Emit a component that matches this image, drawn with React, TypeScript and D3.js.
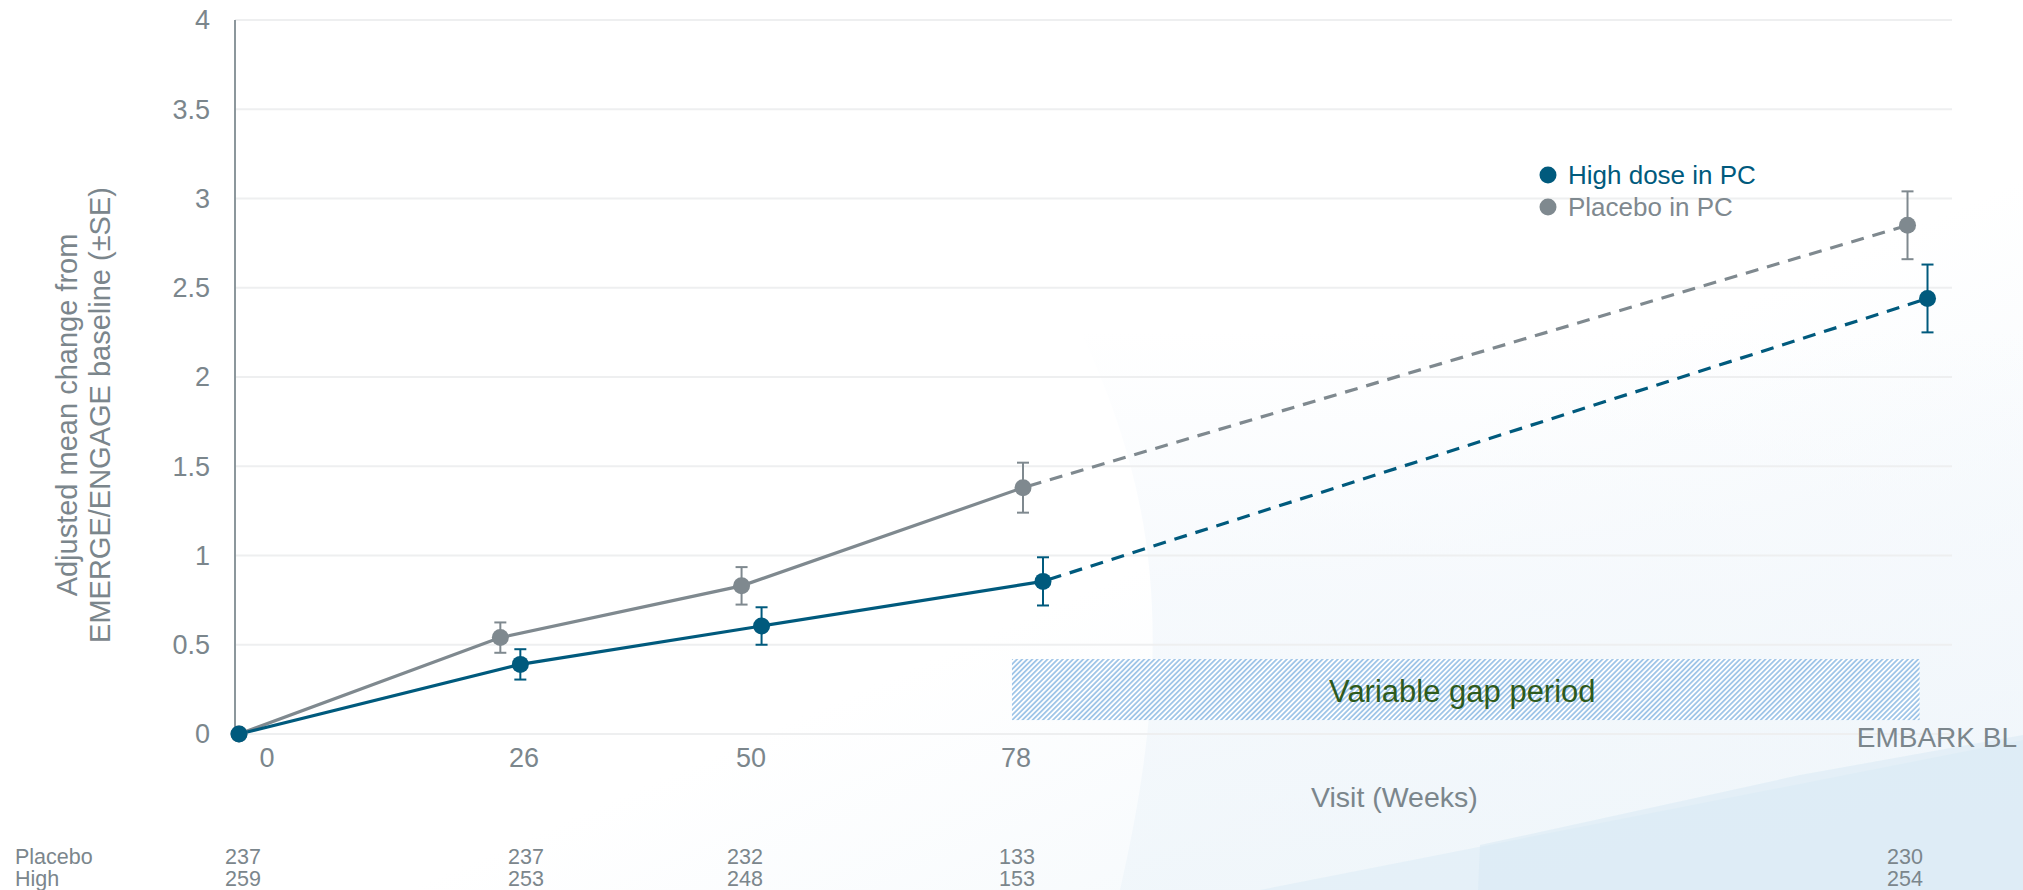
import React from 'react';
import * as d3 from 'd3';

// Visits on the x axis; EMBARK BL sits after the variable gap period
const visitLabels = ['0', '26', '50', '78', 'EMBARK BL'];
const visitAxisPos = [0, 26, 50, 78, 166];

// Adjusted mean change from EMERGE/ENGAGE baseline and standard errors
const placeboMean = [0, 0.54, 0.83, 1.38, 2.85];
const placeboSE = [0, 0.085, 0.105, 0.14, 0.19];
const highMean = [0, 0.39, 0.605, 0.855, 2.44];
const highSE = [0, 0.085, 0.105, 0.135, 0.19];

// Patients at each visit
const placeboN = [237, 237, 232, 133, 230];
const highN = [259, 253, 248, 153, 254];

const yTicks = [0, 0.5, 1, 1.5, 2, 2.5, 3, 3.5, 4];

const W = 2023;
const H = 890;
const FONT = 'Arial, "Liberation Sans", Helvetica, sans-serif';
const GREY_TEXT = '#7b868c';
const HIGH = '#005a7d';
const PLACEBO = '#7f898f';

const series = [
  { key: 'placebo', name: 'Placebo in PC', color: PLACEBO, mean: placeboMean, se: placeboSE, dodge: 0 },
  { key: 'high', name: 'High dose in PC', color: HIGH, mean: highMean, se: highSE, dodge: 20 },
];

type Series = (typeof series)[number];

export default function App() {
  const x = d3.scaleLinear().domain([0, 78]).range([239, 1023]);
  const y = d3.scaleLinear().domain([0, 4]).range([734, 20]);
  const axisX = 235;
  const gridEnd = 1952;

  // text columns for tick labels and the patient-count table
  const tickX = d3.scaleOrdinal<string, number>().domain(visitLabels.slice(0, 4)).range([267, 524, 751, 1016]);
  const tableX = d3.scaleOrdinal<string, number>().domain(visitLabels).range([243, 526, 745, 1017, 1905]);

  // baseline points share one position; later visits are dodged per series
  const px = (s: Series, i: number) => x(visitAxisPos[i]) + (i > 0 ? s.dodge : 0);

  const pathFor = (s: Series, idx: number[]) =>
    d3
      .line<number>()
      .x((i) => px(s, i))
      .y((i) => y(s.mean[i]))(idx) || '';

  const gap = { from: 76.9, to: 167.2, top: 0.42, bottom: 0.078 };

  return (
    <svg
      width={W}
      height={H}
      viewBox={`0 0 ${W} ${H}`}
      style={{ position: 'absolute', left: 0, top: 0, fontFamily: FONT }}
    >
      <defs>
        <linearGradient id="bgGrad" x1="0" y1="0" x2="1" y2="1">
          <stop offset="0" stopColor="#ffffff" />
          <stop offset="0.6" stopColor="#ffffff" />
          <stop offset="1" stopColor="#eef5fa" />
        </linearGradient>
        <linearGradient id="sweep" x1="0" y1="0" x2="0" y2="1">
          <stop offset="0" stopColor="#f4f8fc" stopOpacity="0" />
          <stop offset="0.45" stopColor="#f4f8fc" stopOpacity="1" />
          <stop offset="1" stopColor="#eef5fa" stopOpacity="1" />
        </linearGradient>
        <pattern id="hatch" width="3.6" height="3.6" patternUnits="userSpaceOnUse" patternTransform="rotate(45)">
          <rect width="3.6" height="3.6" fill="#ffffff" />
          <line x1="0.9" y1="0" x2="0.9" y2="3.6" stroke="#6aa5dc" strokeWidth="1.15" />
        </pattern>
      </defs>

      {/* soft slide background */}
      <rect x={0} y={0} width={W} height={H} fill="url(#bgGrad)" />
      <path
        d="M1080,330 C1160,500 1175,650 1120,890 L2023,890 L2023,330 Z"
        fill="url(#sweep)"
        opacity={0.75}
      />
      <path d="M1260,890 L2023,740 L2023,890 Z" fill="#e3eff7" opacity={0.9} />
      <path d="M1478,890 L1480,845 L1800,775 L2023,735 L2023,890 Z" fill="#d8e9f4" opacity={0.55} />

      {/* gridlines */}
      {yTicks.map((t) => (
        <line key={t} x1={axisX} x2={gridEnd} y1={y(t)} y2={y(t)} stroke="#eeeff0" strokeWidth={2} />
      ))}
      <line x1={axisX} x2={axisX} y1={y(4)} y2={y(0)} stroke="#8c979c" strokeWidth={2} />

      {/* y tick labels */}
      {yTicks.map((t) => (
        <text key={t} x={210} y={y(t)} dy="0.35em" textAnchor="end" fontSize={27} fill={GREY_TEXT}>
          {String(t)}
        </text>
      ))}

      {/* y axis title */}
      <g fill={GREY_TEXT} fontSize={29}>
        <text transform="translate(77, 415) rotate(-90)" textAnchor="middle">
          Adjusted mean change from
        </text>
        <text transform="translate(110, 415) rotate(-90)" textAnchor="middle">
          EMERGE/ENGAGE baseline (±SE)
        </text>
      </g>

      {/* variable gap period band */}
      <rect
        x={x(gap.from)}
        y={y(gap.top)}
        width={x(gap.to) - x(gap.from)}
        height={y(gap.bottom) - y(gap.top)}
        fill="url(#hatch)"
      />
      <text x={1329} y={702} fontSize={31} fill="#2e5a1c">
        Variable gap period
      </text>

      {/* x tick labels */}
      {visitLabels.slice(0, 4).map((l) => (
        <text key={l} x={tickX(l)} y={767} textAnchor="middle" fontSize={27} fill={GREY_TEXT}>
          {l}
        </text>
      ))}
      <text x={2017} y={747} textAnchor="end" fontSize={28} fill={GREY_TEXT}>
        {visitLabels[4]}
      </text>
      <text x={1311} y={807} fontSize={28.5} fill={GREY_TEXT}>
        Visit (Weeks)
      </text>

      {/* series lines: solid through week 78, dashed across the gap */}
      {series.map((s) => (
        <g key={s.key}>
          <path d={pathFor(s, [0, 1, 2, 3])} fill="none" stroke={s.color} strokeWidth={3.2} />
          <path
            d={pathFor(s, [3, 4])}
            fill="none"
            stroke={s.color}
            strokeWidth={3.2}
            strokeDasharray="13 9"
            strokeDashoffset={-6}
          />
        </g>
      ))}

      {/* error bars and points */}
      {series.map((s) => (
        <g key={s.key + '-pts'}>
          {s.mean.map((m, i) => {
            const cx = px(s, i);
            const se = s.se[i];
            return (
              <g key={i}>
                {se > 0 && (
                  <g stroke={s.color} strokeWidth={2}>
                    <line x1={cx} x2={cx} y1={y(m + se)} y2={y(m - se)} />
                    <line x1={cx - 6} x2={cx + 6} y1={y(m + se)} y2={y(m + se)} />
                    <line x1={cx - 6} x2={cx + 6} y1={y(m - se)} y2={y(m - se)} />
                  </g>
                )}
                <circle cx={cx} cy={y(m)} r={8.5} fill={s.color} />
              </g>
            );
          })}
        </g>
      ))}

      {/* legend */}
      {[series[1], series[0]].map((s, i) => (
        <g key={s.key + '-lg'} transform={`translate(1548, ${175 + i * 32})`}>
          <circle cx={0} cy={0} r={8.5} fill={s.color} />
          <text x={20} y={0} dy="0.35em" fontSize={26} fill={s.color}>
            {s.name}
          </text>
        </g>
      ))}

      {/* patients per visit */}
      <g fontSize={21.5} fill={GREY_TEXT}>
        <text x={15} y={864}>Placebo</text>
        <text x={15} y={886}>High</text>
        {visitLabels.map((l, i) => (
          <g key={l}>
            <text x={tableX(l)} y={864} textAnchor="middle">
              {placeboN[i]}
            </text>
            <text x={tableX(l)} y={886} textAnchor="middle">
              {highN[i]}
            </text>
          </g>
        ))}
      </g>
    </svg>
  );
}
